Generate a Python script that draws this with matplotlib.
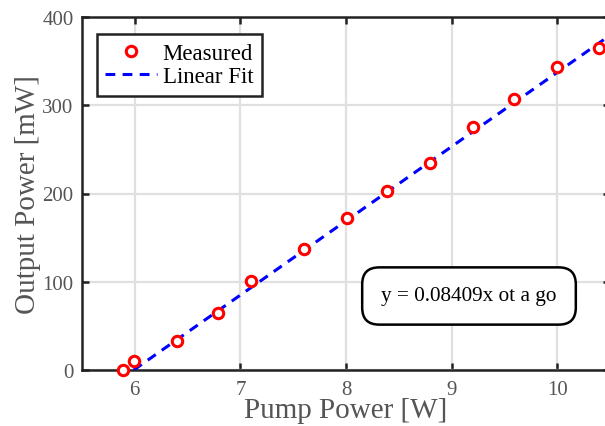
import matplotlib
matplotlib.use("Agg")
import matplotlib.pyplot as plt
import numpy as np

pump_power = [5.89, 5.99, 6.40, 6.79, 7.10, 7.60, 8.01, 8.39, 8.80, 9.20, 9.59, 10.0, 10.4]
output_power = [0, 10.5, 33.2, 64.6, 100.5, 137, 172.5, 203, 234, 275.5, 307, 343, 365]
fit_slope = 84.09
fit_intercept = -503.7
fit_x = [5.99, 10.5]
x_ticks = [6, 7, 8, 9, 10]
y_ticks = [0, 100, 200, 300, 400]
fit_text = "y = 0.08409x ot a go"

plt.rcParams['font.family'] = ['Liberation Serif', 'DejaVu Serif']
fig = plt.figure(figsize=(6.05, 4.27), dpi=100)
ax = fig.add_axes([82/605, 56/427, 528/605, 353/427])

ax.grid(True, color='#e0e0e0', linewidth=1.6, zorder=0)
ax.set_axisbelow(True)

fx = np.array(fit_x)
ax.plot(fx, fit_slope * fx + fit_intercept, linestyle=(0, (3.2, 2.4)), color='#0000ff',
        linewidth=2.2, label='Linear Fit', zorder=3, clip_on=True)
ax.plot(pump_power, output_power, linestyle='none', marker='o', markersize=7.5,
        markerfacecolor='white', markeredgecolor='#ff0000', markeredgewidth=2.2,
        label='Measured', zorder=4, clip_on=False)

ax.set_xlim(5.5, 10.5)
ax.set_ylim(0, 400)
ax.set_xticks(x_ticks)
ax.set_yticks(y_ticks)
ax.tick_params(direction='in', length=5, width=1.8, colors='#222222', labelsize=15,
               labelcolor='#555555', top=True, right=True)
ax.tick_params(axis='x', pad=7)
ax.tick_params(axis='y', pad=6)
for s in ax.spines.values():
    s.set_linewidth(1.8)
    s.set_color('#222222')

ax.set_xlabel('Pump Power [W]', fontsize=21, color='#555555', labelpad=-1)
ax.set_ylabel('Output Power [mW]', fontsize=21, color='#555555', labelpad=1)

handles, labels = ax.get_legend_handles_labels()
leg = ax.legend(handles[::-1], labels[::-1], loc='upper left', bbox_to_anchor=(0.028, 0.952),
                fontsize=16.5, frameon=True, fancybox=False, framealpha=1,
                edgecolor='#222222', handlelength=2.25, handletextpad=0.25,
                borderpad=0.38, labelspacing=0.12, borderaxespad=0)
leg.get_frame().set_linewidth(1.8)

ax.text(469, 130, fit_text, transform=None, fontsize=15.3, color='black',
        ha='center', va='center',
        bbox=dict(boxstyle='round,pad=0.9,rounding_size=0.8', facecolor='white',
                  edgecolor='black', linewidth=1.8), zorder=5)

fig.savefig('out.png', dpi=100)
